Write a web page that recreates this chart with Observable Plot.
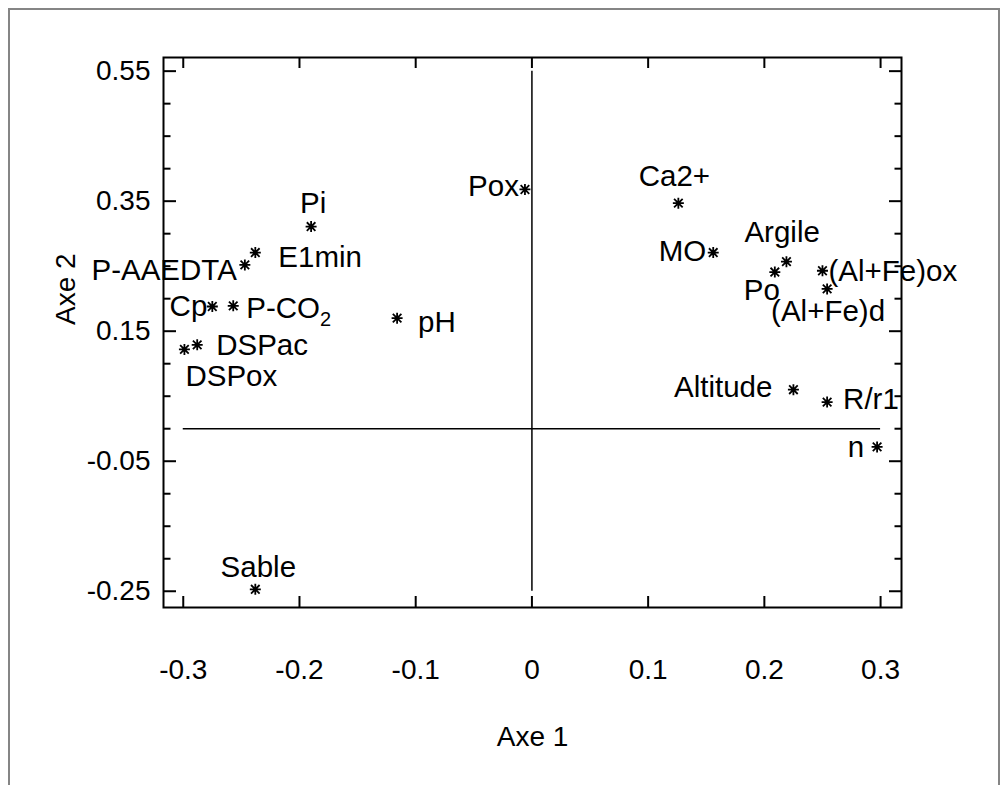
<!DOCTYPE html>
<html>
<head>
<meta charset="utf-8">
<script src="https://cdn.jsdelivr.net/npm/d3@7"></script>
<script src="https://cdn.jsdelivr.net/npm/@observablehq/plot@0.6"></script>
<style>
  body { margin: 0; background: #fff; }
  #chart { position: relative; width: 1004px; height: 785px; overflow: hidden; }
  #chart svg { position: absolute; left: 0; top: 0; }
  #border {
    position: absolute; left: 8px; top: 8px; width: 988px; height: 800px;
    border: 2px solid #858585; border-bottom: none; pointer-events: none;
  }
</style>
</head>
<body>
<div id="chart"><div id="border"></div></div>
<script>
// Variables projected on the first two factorial axes
const variables = ["Pi", "E1min", "P-AAEDTA", "Cp", "P-CO2", "DSPac", "DSPox", "pH", "Pox",
  "Ca2+", "MO", "Argile", "Po", "(Al+Fe)ox", "(Al+Fe)d", "Altitude", "R/r1", "n", "Sable"];
const axe1 = [-0.190, -0.238, -0.247, -0.275, -0.257, -0.288, -0.299, -0.116, -0.006,
  0.126, 0.156, 0.219, 0.209, 0.250, 0.254, 0.225, 0.254, 0.297, -0.238];
const axe2 = [0.311, 0.271, 0.252, 0.188, 0.189, 0.129, 0.122, 0.170, 0.368,
  0.347, 0.271, 0.257, 0.241, 0.243, 0.215, 0.060, 0.041, -0.028, -0.247];

// Tick values
const xTicks = [-0.3, -0.2, -0.1, 0, 0.1, 0.2, 0.3];
const yMajorTicks = [0.55, 0.35, 0.15, -0.05, -0.25];
const yMinorTicks = [0.5, 0.45, 0.4, 0.3, 0.25, 0.2, 0.1, 0.05, 0, -0.1, -0.15, -0.2];

// Label placement relative to each marker (pixels)
const labelPlacement = {
  "Pi":        {anchor: "middle", dx: 2,   dy: -14},
  "E1min":     {anchor: "start",  dx: 23,  dy: 14},
  "P-AAEDTA":  {anchor: "end",    dx: -8,  dy: 15},
  "Cp":        {anchor: "end",    dx: -5,  dy: 10},
  "P-CO2":     {anchor: "start",  dx: 13,  dy: 12},
  "DSPac":     {anchor: "start",  dx: 19,  dy: 10},
  "DSPox":     {anchor: "start",  dx: 1,   dy: 37},
  "pH":        {anchor: "start",  dx: 21,  dy: 14},
  "Pox":       {anchor: "end",    dx: -6,  dy: 7},
  "Ca2+":      {anchor: "middle", dx: -4,  dy: -17},
  "MO":        {anchor: "end",    dx: -7,  dy: 8},
  "Argile":    {anchor: "start",  dx: -42, dy: -20},
  "Po":        {anchor: "start",  dx: -31, dy: 28},
  "(Al+Fe)ox": {anchor: "start",  dx: 6,   dy: 10},
  "(Al+Fe)d":  {anchor: "start",  dx: -56, dy: 32},
  "Altitude":  {anchor: "end",    dx: -21, dy: 7},
  "R/r1":      {anchor: "start",  dx: 16,  dy: 7},
  "n":         {anchor: "end",    dx: -13, dy: 10},
  "Sable":     {anchor: "middle", dx: 3,   dy: -12}
};

const points = variables.map((name, i) => ({name, x: axe1[i], y: axe2[i]}));

const FONT = "Liberation Sans, Arial, Helvetica, sans-serif";
const FS = 28;        // tick labels and axis titles
const FS_LABEL = 29.5; // variable names

// Eight-armed asterisk marker
const asterisk = {
  draw(context, size) {
    const r = Math.sqrt(size / Math.PI);
    const d = r * 0.78;
    context.moveTo(0, -r); context.lineTo(0, r);
    context.moveTo(-r, 0); context.lineTo(r, 0);
    context.moveTo(-d, -d); context.lineTo(d, d);
    context.moveTo(-d, d); context.lineTo(d, -d);
  }
};

const labelMarks = points.map(p => {
  const pl = labelPlacement[p.name];
  return Plot.text([p], {
    x: "x", y: "y", text: "name",
    textAnchor: pl.anchor, lineAnchor: "bottom",
    dx: pl.dx, dy: pl.dy,
    fontSize: FS_LABEL, fill: "black"
  });
});

// Inward ticks: draw the usual outward tick, then shift it inside the frame by its length
const tickAxis = (axis, ticks, anchor, size) => {
  const shift = {
    left: {dx: size}, right: {dx: -size},
    bottom: {dy: -size}, top: {dy: size}
  }[anchor];
  return axis(ticks, {anchor, tickSize: size, text: null, label: null,
    strokeWidth: 2, stroke: "black", ...shift});
};

const plot = Plot.plot({
  width: 1004,
  height: 785,
  marginLeft: 163,
  marginRight: 103,
  marginTop: 57,
  marginBottom: 178,
  style: {fontFamily: FONT, background: "transparent", color: "black"},
  x: {domain: [-0.317, 0.318]},
  y: {domain: [-0.275, 0.571]},
  marks: [
    // tick labels
    Plot.axisY(yMajorTicks, {anchor: "left", tickSize: 0, tickPadding: 13, fontSize: FS,
      tickFormat: d => d.toFixed(2), label: null}),
    Plot.axisX(xTicks, {anchor: "bottom", tickSize: 0, tickPadding: 52, fontSize: FS,
      tickFormat: d => d === 0 ? "0" : d.toFixed(1), label: null}),
    // ticks on all four sides
    tickAxis(Plot.axisY, yMajorTicks, "left", 13),
    tickAxis(Plot.axisY, yMinorTicks, "left", 7.5),
    tickAxis(Plot.axisY, yMajorTicks, "right", 13),
    tickAxis(Plot.axisY, yMinorTicks, "right", 7.5),
    tickAxis(Plot.axisX, xTicks, "bottom", 11),
    tickAxis(Plot.axisX, xTicks, "top", 10),
    Plot.frame({stroke: "black", strokeWidth: 2}),
    // origin lines
    Plot.ruleX([0], {y1: yMajorTicks[yMajorTicks.length - 1], y2: yMajorTicks[0], stroke: "black", strokeWidth: 1.5}),
    Plot.ruleY([0], {x1: xTicks[0], x2: xTicks[xTicks.length - 1], stroke: "black", strokeWidth: 1.5}),
    // variables
    Plot.dot(points, {x: "x", y: "y", symbol: asterisk, r: 5.5, stroke: "black", strokeWidth: 1.8, fill: "none"}),
    ...labelMarks,
    // axis titles
    Plot.text(["Axe 1"], {frameAnchor: "bottom", text: d => d, dy: 138, lineAnchor: "bottom",
      fontSize: FS, fill: "black"}),
    Plot.text(["Axe 2"], {frameAnchor: "left", text: d => d, rotate: -90, dx: -89, dy: -7.5,
      lineAnchor: "bottom", fontSize: FS, fill: "black"})
  ]
});

// Subscript for the CO2 label
plot.querySelectorAll("text").forEach(t => {
  if (t.textContent === "P-CO2") {
    t.textContent = "P-CO";
    const sub = document.createElementNS("http://www.w3.org/2000/svg", "tspan");
    sub.setAttribute("dy", "8");
    sub.setAttribute("font-size", "20");
    sub.textContent = "2";
    t.appendChild(sub);
  }
});

const chart = document.getElementById("chart");
chart.insertBefore(plot, chart.firstChild);
</script>
</body>
</html>
